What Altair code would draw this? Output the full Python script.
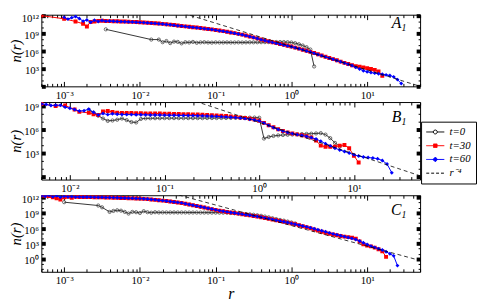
import altair as alt
import pandas as pd

FONT = "Liberation Serif"

# ---------------- legend / series ----------------
SERIES = ["t=0", "t=30", "t=60", "r⁻⁴"]
LEGEND_STROKE = ["black", "red", "blue", "black"]
LEGEND_FILL = ["white", "red", "blue", "transparent"]
LEGEND_DASH = [[1, 0], [1, 0], [1, 0], [3, 2]]
LEGEND_SHAPES = [
    "M-2.3,0L-0.5,0M0.5,0L2.3,0M0.5,0A0.5,0.5,0,1,1,-0.5,0A0.5,0.5,0,1,1,0.5,0Z",
    "M-2.3,0L2.3,0M-0.45,-0.45L0.45,-0.45L0.45,0.45L-0.45,0.45Z",
    "M-2.3,0L2.3,0M0,-0.6L0.6,0L0,0.6L-0.6,0Z",
    "M-2.3,0L2.3,0",
]

# ---------------- tick labels ----------------
X_DECADES = [-4, -3, -2, -1, 0, 1, 2]
X_MINOR_MULT = [2, 3, 4, 5, 6, 7, 8, 9]
Y_DECADES = [-3, -2, -1, 0, 1, 2, 3, 4, 5, 6, 7, 8, 9, 10, 11, 12, 13]
Y_MAJOR_STEP = 3
SUP = {"-": "⁻", "0": "⁰", "1": "¹", "2": "²", "3": "³", "4": "⁴",
       "5": "⁵", "6": "⁶", "7": "⁷", "8": "⁸", "9": "⁹"}

# ---------------- Panel A data (log10 r, log10 n) ----------------
A_LOGR = [-3.30, -3.25, -3.20, -3.15, -3.10, -3.05, -3.00, -2.95, -2.90, -2.85,
          -2.80, -2.75, -2.70, -2.65, -2.60, -2.55, -2.50, -2.45, -2.40, -2.35,
          -2.30, -2.25, -2.20, -2.15, -2.10, -2.05, -2.00, -1.95, -1.90, -1.85,
          -1.80, -1.75, -1.70, -1.65, -1.60, -1.55, -1.50, -1.45, -1.40, -1.35,
          -1.30, -1.25, -1.20, -1.15, -1.10, -1.05, -1.00, -0.95, -0.90, -0.85,
          -0.80, -0.75, -0.70, -0.65, -0.60, -0.55, -0.50, -0.45, -0.40, -0.35,
          -0.30, -0.25, -0.20, -0.15, -0.10, -0.05, 0.00, 0.05, 0.10, 0.15,
          0.20, 0.25, 0.30, 0.35, 0.40, 0.45, 0.50, 0.55, 0.60, 0.65,
          0.70, 0.75, 0.80, 0.85, 0.90, 0.95, 1.00, 1.05, 1.10, 1.15,
          1.20, 1.25, 1.30, 1.35, 1.40, 1.45]
A_N0 = [None, None, None, None, None, None, None, None, None, None,
        None, None, None, None, None, None, None, 9.75, None, None,
        None, None, None, None, None, None, None, None, None, 8.00,
        None, 8.00, 7.55, 7.75, 7.40, 7.65, 7.60, 7.35, 7.55, 7.50,
        7.60, 7.45, 7.52, 7.55, 7.50, 7.48, 7.52, 7.50, 7.50, 7.52,
        7.50, 7.50, 7.52, 7.50, 7.52, 7.53, 7.53, 7.54, 7.55, 7.56,
        7.57, 7.58, 7.58, 7.58, 7.57, 7.55, 7.50, 7.38, 7.20, 6.98,
        6.70, 6.30, 3.40, None, None, None, None, None, None, None,
        None, None, None, None, None, None, None, None, None, None,
        None, None, None, None, None, None]
A_N30 = [12.10, None, None, None, None, None, 11.55, None, None, 11.10,
         None, 10.70, 10.25, 11.00, 11.10, 11.20, 11.22, 11.18, 11.16, 11.14,
         11.12, 11.10, 11.08, 11.05, 11.03, 11.00, 10.97, 10.93, 10.88, 10.84,
         10.80, 10.74, 10.68, 10.62, 10.55, 10.48, 10.40, 10.33, 10.26, 10.19,
         10.12, 10.05, 9.98, 9.90, 9.82, 9.74, 9.65, 9.55, 9.45, 9.34,
         9.22, 9.10, 8.97, 8.84, 8.70, 8.54, 8.38, 8.20, 8.02, 7.86,
         7.70, 7.55, 7.40, 7.25, 7.10, 6.95, 6.80, 6.62, 6.45, 6.27,
         6.08, 5.89, 5.70, 5.49, 5.28, 5.07, 4.86, 4.65, 4.45, 4.23,
         4.02, 3.82, 3.62, 3.45, 3.35, 3.25, 3.12, 2.98, 2.82, 2.55,
         1.80, None, None, None, None, None]
A_N60 = [None, None, None, None, None, None, 11.80, 11.50, 11.75, 11.95,
         11.60, 11.15, 11.35, 10.95, 11.30, 11.10, 11.25, 11.15, 11.18, 11.12,
         11.10, 11.07, 11.05, 11.02, 11.00, 10.97, 10.94, 10.90, 10.85, 10.81,
         10.77, 10.71, 10.65, 10.59, 10.52, 10.45, 10.37, 10.30, 10.23, 10.16,
         10.09, 10.02, 9.95, 9.87, 9.79, 9.71, 9.62, 9.52, 9.42, 9.31,
         9.19, 9.07, 8.94, 8.81, 8.67, 8.51, 8.35, 8.17, 7.99, 7.83,
         7.67, 7.52, 7.37, 7.22, 7.07, 6.92, 6.77, 6.59, 6.42, 6.24,
         6.05, 5.86, 5.67, 5.46, 5.25, 5.04, 4.83, 4.62, 4.42, 4.20,
         3.99, 3.79, 3.58, 3.25, 2.98, 2.68, 2.50, 2.36, 2.26, 2.16,
         2.06, 1.96, 1.85, 1.62, 1.15, 0.50]

# ---------------- Panel B data ----------------
B_LOGR = [-2.30, -2.25, -2.20, -2.15, -2.10, -2.05, -2.00, -1.95, -1.90, -1.85,
          -1.80, -1.75, -1.70, -1.65, -1.60, -1.55, -1.50, -1.45, -1.40, -1.35,
          -1.30, -1.25, -1.20, -1.15, -1.10, -1.05, -1.00, -0.95, -0.90, -0.85,
          -0.80, -0.75, -0.70, -0.65, -0.60, -0.55, -0.50, -0.45, -0.40, -0.35,
          -0.30, -0.25, -0.20, -0.15, -0.10, -0.05, 0.00, 0.05, 0.10, 0.15,
          0.20, 0.25, 0.30, 0.35, 0.40, 0.45, 0.50, 0.55, 0.60, 0.65,
          0.70, 0.75, 0.80, 0.85, 0.90, 0.95, 1.00, 1.05, 1.10, 1.15,
          1.20, 1.25, 1.30, 1.35, 1.40]
B_N0 = [None, None, None, None, None, None, None, None, None, None,
        8.50, 8.15, 7.75, 7.40, 7.10, 7.15, 7.25, 7.40, 7.20, 6.95,
        6.90, 7.35, 7.42, 7.43, 7.44, 7.44, 7.45, 7.45, 7.45, 7.45,
        7.45, 7.45, 7.45, 7.45, 7.45, 7.46, 7.46, 7.46, 7.47, 7.47,
        7.48, 7.48, 7.49, 7.50, 7.51, 7.52, 7.50, 4.85, 5.05, 5.18,
        5.25, 5.30, 5.33, 5.36, 5.39, 5.42, 5.44, 5.47, 5.50, 5.54,
        5.35, 4.90, 4.30, 3.85, None, None, None, None, None, None,
        None, None, None, None, None]
B_N30 = [9.25, None, None, 9.00, None, 9.05, None, 8.55, 8.25, None,
         8.12, 7.95, 7.85, 8.30, 8.37, 8.25, 8.15, 8.12, 8.10, 8.10,
         8.08, 8.07, 8.06, 8.05, 8.04, 8.03, 8.02, 8.00, 7.99, 7.98,
         7.96, 7.95, 7.93, 7.91, 7.89, 7.86, 7.83, 7.80, 7.76, 7.72,
         7.67, 7.61, 7.54, 7.46, 7.37, 7.26, 7.12, 6.85, 6.55, 6.28,
         6.03, 5.82, 5.64, 5.50, 5.38, 5.27, 5.15, 4.98, 4.60, 3.95,
         3.80, 3.80, 3.80, 3.95, 4.02, 3.62, 2.65, 1.80, None, None,
         None, None, None, None, None]
B_N60 = [9.25, 9.20, 9.05, 9.10, 9.10, 8.85, 8.70, 8.55, 8.35, 8.40,
         8.60, 8.20, 7.85, 8.05, 7.90, 8.00, 7.95, 7.92, 7.90, 7.90,
         7.89, 7.88, 7.87, 7.86, 7.85, 7.84, 7.83, 7.82, 7.81, 7.80,
         7.79, 7.78, 7.77, 7.76, 7.74, 7.72, 7.70, 7.67, 7.64, 7.61,
         7.57, 7.52, 7.46, 7.39, 7.31, 7.22, 7.10, 6.83, 6.53, 6.25,
         6.00, 5.80, 5.62, 5.48, 5.35, 5.24, 5.12, 4.97, 4.80, 4.50,
         4.20, 3.92, 3.62, 3.40, 3.20, 3.00, 2.78, 2.62, 2.50, 2.43,
         2.37, 2.28, 2.05, 1.60, 0.50]

# ---------------- Panel C data ----------------
C_LOGR = A_LOGR[:95]
C_N0 = [None, None, None, None, None, None, 11.05, None, None, None,
        None, None, None, None, None, 10.40, 10.05, None, 9.16, 9.35,
        9.48, 9.40, 9.16, 8.84, 9.16, 9.10, 8.95, 9.30, 9.10, 9.00,
        9.10, 9.05, 9.06, 9.05, 9.05, 9.06, 9.05, 9.05, 9.05, 9.04,
        9.04, 9.04, 9.03, 9.03, 9.03, 9.02, 9.02, 9.01, 9.01, 9.00,
        8.95, 8.90, 8.85, 8.80, 8.75, 8.68, 8.60, 8.50, 8.40, 8.25,
        8.10, 7.93, 7.75, 7.60, 7.45, 7.28, 7.10, 6.90, None, None,
        None, None, None, None, None, None, None, None, None, None,
        None, None, None, None, None, None, None, None, None, None,
        None, None, None, None, None]
C_N30 = [12.35, 12.30, 12.25, 12.00, 11.80, 11.55, 12.00, 12.10, 11.90, 12.10,
         12.05, 12.05, 12.04, 12.03, 12.02, 12.00, 11.99, 11.97, 11.95, 11.93,
         11.91, 11.88, 11.86, 11.83, 11.80, 11.77, 11.74, 11.70, 11.65, 11.58,
         11.50, 11.43, 11.35, 11.27, 11.18, 11.09, 11.00, 10.90, 10.75, 10.60,
         10.45, 10.30, 10.15, 10.00, 9.85, 9.70, 9.55, 9.40, 9.27, 9.15,
         9.04, 8.93, 8.82, 8.71, 8.60, 8.49, 8.37, 8.25, 8.12, 7.98,
         7.84, 7.69, 7.54, 7.39, 7.23, 7.07, 6.91, 6.74, 6.56, 6.38,
         6.19, 5.98, 5.75, 5.52, 5.30, 5.10, 4.92, 4.76, 4.62, 4.48,
         4.35, 4.25, 4.15, 3.95, 3.40, 2.85, 2.60, 2.45, 2.20, 1.90,
         1.50, 0.40, None, None, None]
C_N60 = [12.30, 12.20, 12.40, 12.10, 12.30, 12.00, 12.20, 12.10, 12.15, 12.05,
         12.08, 12.06, 12.05, 12.04, 12.03, 12.01, 12.00, 11.98, 11.96, 11.94,
         11.92, 11.89, 11.87, 11.84, 11.81, 11.78, 11.75, 11.71, 11.66, 11.59,
         11.51, 11.44, 11.36, 11.28, 11.19, 11.10, 11.01, 10.91, 10.76, 10.61,
         10.46, 10.31, 10.16, 10.01, 9.86, 9.71, 9.56, 9.41, 9.28, 9.16,
         9.05, 8.94, 8.83, 8.72, 8.61, 8.50, 8.38, 8.26, 8.13, 7.99,
         7.85, 7.70, 7.55, 7.40, 7.24, 7.08, 6.92, 6.76, 6.59, 6.42,
         6.25, 6.07, 5.88, 5.68, 5.48, 5.28, 5.08, 4.88, 4.70, 4.52,
         4.35, 4.18, 4.00, 3.78, 3.50, 3.15, 2.80, 2.50, 2.25, 2.00,
         1.75, 1.40, 1.00, 0.60, -1.30]

# reference r^-4 line: endpoints (log10 r, log10 n)
DASH_LOGR = [-3.5, 2.0]
A_DASH = [20.8, -1.2]
B_DASH = [20.9, -1.1]
C_DASH = [20.5, -1.5]

for g, lists in ((A_LOGR, (A_N0, A_N30, A_N60)), (B_LOGR, (B_N0, B_N30, B_N60)),
                 (C_LOGR, (C_N0, C_N30, C_N60))):
    for l in lists:
        assert len(l) == len(g), (len(l), len(g))

W = 386


def pow_label(e):
    return "10" + "".join(SUP[c] for c in str(e))


def label_expr(exps):
    expr = "''"
    for e in exps:
        expr = f"(round(log(datum.value)/LN10) == {e}) ? '{pow_label(e)}' : ({expr})"
    return expr


def axis(orient, values, size, width, labels=False, lexpr=None, lpad=0, **extra):
    d = dict(orient=orient, values=values, tickSize={"expr": str(-size)}, tickWidth=width,
             tickColor="black", domain=False, grid=False, labels=labels, title=None)
    if labels:
        d.update(labelExpr=lexpr, labelPadding=lpad, labelFont=FONT, labelFontSize=11,
                 labelColor="black", labelOverlap=False, labelFlush=False)
    d.update(extra)
    return alt.Axis(**d)


def panel(logr, n0, n30, n60, dash_n, xdom, ydom, h, xlab_exp, ylab_exp, letter, letter_y,
          x_title=False, with_legend=False):
    rows = []
    for name, vals in (("t=0", n0), ("t=30", n30), ("t=60", n60)):
        for lr, ln in zip(logr, vals):
            if ln is not None:
                rows.append({"series": name, "r": 10.0 ** lr, "n": 10.0 ** ln})
    df = pd.DataFrame(rows)
    dash = pd.DataFrame({"r": [10.0 ** v for v in DASH_LOGR], "n": [10.0 ** v for v in dash_n]})

    inx = lambda v: xdom[0] <= v <= xdom[1]
    iny = lambda v: ydom[0] <= v <= ydom[1]
    xmaj = [10.0 ** e for e in X_DECADES if inx(10.0 ** e)]
    xmin = [k * 10.0 ** e for e in X_DECADES for k in X_MINOR_MULT if inx(k * 10.0 ** e)]
    ymaj = [10.0 ** e for e in Y_DECADES if e % Y_MAJOR_STEP == 0 and iny(10.0 ** e)]
    ymin = [10.0 ** e for e in Y_DECADES if e % Y_MAJOR_STEP != 0 and iny(10.0 ** e)]

    xs = alt.Scale(type="log", domain=list(xdom))
    ys = alt.Scale(type="log", domain=list(ydom))
    X = lambda a: alt.X("r:Q", scale=xs, axis=a)
    Y = lambda a: alt.Y("n:Q", scale=ys, axis=a)

    bx_extra = {}
    if x_title:
        bx_extra = dict(title="r", titleFont=FONT, titleFontStyle="italic", titleFontWeight="normal",
                        titleFontSize=16, titleColor="black", titleY=27, titleBaseline="alphabetic")
    ax_bmaj = axis("bottom", xmaj, 5, 1, True, label_expr(xlab_exp), 8, **bx_extra)
    ax_bmin = axis("bottom", xmin, 3, 1)
    ax_tmaj = axis("top", xmaj, 5, 1)
    ax_tmin = axis("top", xmin, 3, 1)
    ax_lmaj = axis("left", ymaj, 4, 4, True, label_expr(ylab_exp), 7,
                   labelOffset=2, title="n(r)", titleFont=FONT, titleFontStyle="italic",
                   titleFontWeight="normal", titleFontSize=15, titleColor="black",
                   titleX=-26, titleY=h / 2, titleAngle=270, titleAlign="center",
                   titleBaseline="middle")
    ax_lmin = axis("left", ymin, 2, 1)
    ax_rmaj = axis("right", ymaj, 4, 4)
    ax_rmin = axis("right", ymin, 2, 1)

    def sub(name):
        return alt.Chart(df[df.series == name])

    l0 = sub("t=0").mark_line(color="black", strokeWidth=0.8, clip=True).encode(x=X(ax_bmin), y=Y(ax_lmin))
    p0 = sub("t=0").mark_point(shape="circle", size=11, filled=False, color="#333333", strokeWidth=0.7,
                               opacity=1, clip=True).encode(x=X(ax_tmaj), y=Y(ax_rmaj))
    l30 = sub("t=30").mark_line(color="red", strokeWidth=1, clip=True).encode(x=X(ax_tmin), y=Y(ax_rmin))
    p30 = sub("t=30").mark_point(shape="square", size=16, filled=True, color="red",
                                 opacity=1, clip=True).encode(x=X(None), y=Y(None))
    l60 = sub("t=60").mark_line(color="blue", strokeWidth=1, clip=True).encode(x=X(None), y=Y(None))
    p60 = sub("t=60").mark_point(shape="diamond", size=16, filled=True, color="blue",
                                 opacity=1, clip=True).encode(x=X(None), y=Y(None))
    dl = alt.Chart(dash).mark_line(color="black", strokeDash=[4, 3], strokeWidth=0.8, clip=True).encode(
        x=X(ax_bmaj), y=Y(ax_lmaj))

    t1 = alt.Chart(pd.DataFrame({"t": [letter]})).mark_text(
        font=FONT, fontStyle="italic", fontSize=16, align="right", baseline="alphabetic", color="black"
    ).encode(text="t:N", x=alt.value(W - 19), y=alt.value(letter_y))
    t2 = alt.Chart(pd.DataFrame({"t": ["1"]})).mark_text(
        font=FONT, fontStyle="italic", fontSize=10, align="right", baseline="alphabetic", color="black"
    ).encode(text="t:N", x=alt.value(W - 14), y=alt.value(letter_y + 3))

    layers = [l0, p0, l30, p30, l60, p60, dl, t1, t2]
    if with_legend:
        leg = alt.Chart(pd.DataFrame({"series": SERIES})).transform_filter("false").mark_point(
            size=64, opacity=1).encode(
            shape=alt.Shape("series:N", scale=alt.Scale(domain=SERIES, range=LEGEND_SHAPES),
                            legend=alt.Legend(orient="none", legendX=387, legendY=109, title=None,
                                              symbolSize=64, symbolStrokeWidth=1, symbolOffset=4,
                                              labelFont=FONT, labelFontStyle="italic", labelFontSize=11,
                                              labelColor="black", labelOffset=9, padding=5,
                                              rowPadding=2, strokeColor="black", fillColor="white")),
            fill=alt.Fill("series:N", scale=alt.Scale(domain=SERIES, range=LEGEND_FILL)),
            stroke=alt.Stroke("series:N", scale=alt.Scale(domain=SERIES, range=LEGEND_STROKE)),
            strokeDash=alt.StrokeDash("series:N", scale=alt.Scale(domain=SERIES, range=LEGEND_DASH)),
        )
        layers.append(leg)
    return alt.layer(*layers).resolve_axis(x="independent", y="independent").properties(width=W, height=h)


pA = panel(A_LOGR, A_N0, A_N30, A_N60, A_DASH, (5e-4, 50.0), (1.0, 10 ** 12.25), 73,
           [-3, -2, -1, 0, 1], [3, 6, 9, 12], "A", 14)
pB = panel(B_LOGR, B_N0, B_N30, B_N60, B_DASH, (5e-3, 50.0), (10 ** -0.375, 10 ** 9.5), 79,
           [-2, -1, 0, 1], [3, 6, 9], "B", 20, with_legend=True)
pC = panel(C_LOGR, C_N0, C_N30, C_N60, C_DASH, (5e-4, 50.0), (10 ** -2.5, 10 ** 12.4), 78,
           [-3, -2, -1, 0, 1], [0, 3, 6, 9, 12], "C", 20, x_title=True)

chart = alt.vconcat(pA, pB, pC, spacing=16, bounds="flush").properties(
    padding={"left": 0, "top": 0, "right": 0, "bottom": 0}, background="white"
).configure_view(stroke="black", strokeWidth=1)

chart.save("out.html", embed_options={"renderer": "svg", "actions": False})
